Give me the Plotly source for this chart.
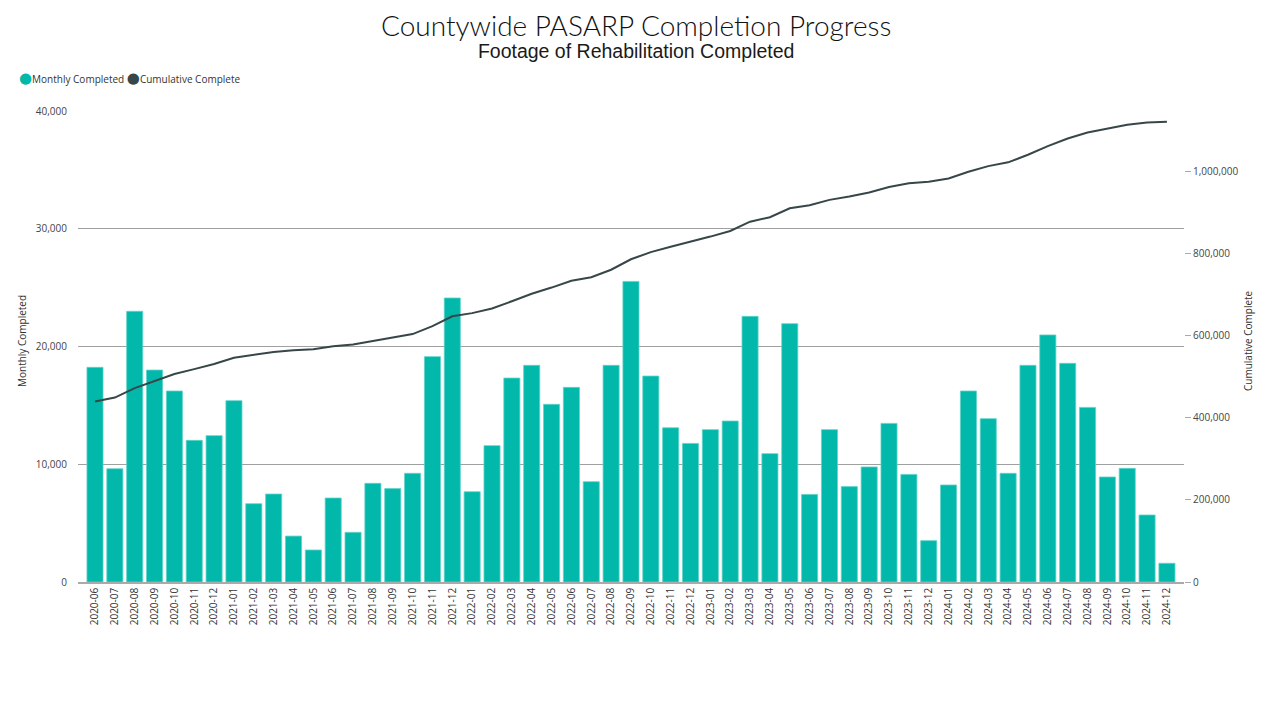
import plotly.graph_objects as go

months = [
    "2020-06", "2020-07", "2020-08", "2020-09", "2020-10", "2020-11", "2020-12",
    "2021-01", "2021-02", "2021-03", "2021-04", "2021-05", "2021-06", "2021-07",
    "2021-08", "2021-09", "2021-10", "2021-11", "2021-12",
    "2022-01", "2022-02", "2022-03", "2022-04", "2022-05", "2022-06", "2022-07",
    "2022-08", "2022-09", "2022-10", "2022-11", "2022-12",
    "2023-01", "2023-02", "2023-03", "2023-04", "2023-05", "2023-06", "2023-07",
    "2023-08", "2023-09", "2023-10", "2023-11", "2023-12",
    "2024-01", "2024-02", "2024-03", "2024-04", "2024-05", "2024-06", "2024-07",
    "2024-08", "2024-09", "2024-10", "2024-11", "2024-12",
]

monthly_completed = [
    18230, 9620, 22990, 18000, 16220, 12030, 12430,
    15400, 6650, 7470, 3900, 2720, 7130, 4220,
    8380, 7930, 9230, 19140, 24120,
    7670, 11580, 17320, 18400, 15090, 16530, 8520,
    18400, 25530, 17490, 13100, 11770,
    12940, 13670, 22560, 10900, 21940, 7440, 12940,
    8100, 9770, 13470, 9140, 3510,
    8240, 16220, 13870, 9230, 18400, 20980, 18570,
    14830, 8920, 9650, 5690, 1590,
]

cumulative_complete = [
    440000, 449600, 472600, 490600, 506800, 518900, 531300,
    546700, 553300, 560800, 564700, 567400, 574600, 578800,
    587200, 595100, 604300, 623500, 647600,
    655300, 666800, 684200, 702600, 717600, 734200, 742700,
    761100, 786600, 804100, 817200, 829000,
    841900, 855600, 878200, 889100, 911000, 918400, 931400,
    939500, 949200, 962700, 971900, 975400,
    983600, 999800, 1013700, 1022900, 1041300, 1062300, 1080900,
    1095700, 1104600, 1114300, 1120000, 1121600,
]

title_text = "Countywide PASARP Completion Progress"
subtitle_text = "Footage of Rehabilitation Completed"

TEAL = "#01B8AA"
DARK = "#374649"
FONT = "Open Sans, Noto Sans, DejaVu Sans, sans-serif"

# the page places the figure 8px in from the top-left corner
OFF = 8
W, H = 1272 - OFF, 702 - OFF
L, R, T, B = 78 - OFF, 88, 111 - OFF, 120
PW, PH = W - L - R, H - T - B


def px_x(x):
    return (x - OFF - L) / PW


def px_y(y):
    return (H - B - (y - OFF)) / PH


fig = go.Figure()

fig.add_trace(go.Bar(
    x=months, y=monthly_completed, name="Monthly Completed",
    marker=dict(color=TEAL, line=dict(color="#5fd3c9", width=0.8)),
    showlegend=False, yaxis="y",
))

fig.add_trace(go.Scatter(
    x=months, y=cumulative_complete, name="Cumulative Complete",
    mode="lines", line=dict(color=DARK, width=2),
    showlegend=False, yaxis="y2",
))

heading = (
    "<span style='font-family:Lato, Open Sans, sans-serif;font-weight:300;"
    "font-size:28px;color:#111'>%s</span><br>"
    "<span style='font-family:Liberation Sans, Arial, sans-serif;"
    "font-size:19.5px;color:#1a1a1a'>%s</span>" % (title_text, subtitle_text)
)

fig.update_layout(
    width=W, height=H,
    margin=dict(l=L, r=R, t=T, b=B, autoexpand=False),
    paper_bgcolor="white", plot_bgcolor="white",
    font=dict(family=FONT, size=10, color="#444"),
    bargap=0.19,
    xaxis=dict(
        type="category",
        range=[-0.856, 54.86],
        tickangle=-90,
        tickfont=dict(size=10, color="#333"),
        showgrid=False,
        showline=True, linecolor="#aaa", linewidth=1.5,
        ticks="", zeroline=False,
    ),
    yaxis=dict(
        range=[0, 40000],
        tickvals=[0, 10000, 20000, 30000, 40000],
        tickformat=",",
        showgrid=True, gridcolor="#a0a0a0", gridwidth=1.4,
        zeroline=False, showline=False,
        ticks="outside", ticklen=8, tickcolor="rgba(0,0,0,0)",
        tickfont=dict(size=10, color="#444"),
    ),
    yaxis2=dict(
        range=[0, 1148000],
        overlaying="y", side="right",
        tickvals=[0, 200000, 400000, 600000, 800000, 1000000],
        tickformat=",",
        showgrid=False, zeroline=False, showline=False,
        ticks="outside", ticklen=6, tickcolor="#aaa", tickwidth=1,
        tickfont=dict(size=10, color="#444"),
    ),
    annotations=[
        dict(text=heading,
             x=px_x(636), y=px_y(35.5), xref="paper", yref="paper",
             xanchor="center", yanchor="middle", showarrow=False,
             font=dict(family="Lato, Open Sans, sans-serif", size=17, color="#111")),
        dict(text="<span style='color:%s;font-size:15px'>●</span>Monthly Completed "
                  "<span style='color:%s;font-size:15px'>●</span>Cumulative Complete" % (TEAL, DARK),
             x=px_x(17), y=px_y(77), xref="paper", yref="paper",
             xanchor="left", yanchor="middle", showarrow=False,
             font=dict(family=FONT, size=10, color="#333")),
        dict(text="Monthly Completed", textangle=-90,
             x=px_x(22), y=px_y(341), xref="paper", yref="paper",
             xanchor="center", yanchor="middle", showarrow=False,
             font=dict(family=FONT, size=10, color="#333")),
        dict(text="Cumulative Complete", textangle=-90,
             x=px_x(1248), y=px_y(341), xref="paper", yref="paper",
             xanchor="center", yanchor="middle", showarrow=False,
             font=dict(family=FONT, size=10, color="#333")),
    ],
)

fig.write_html("out.html")
